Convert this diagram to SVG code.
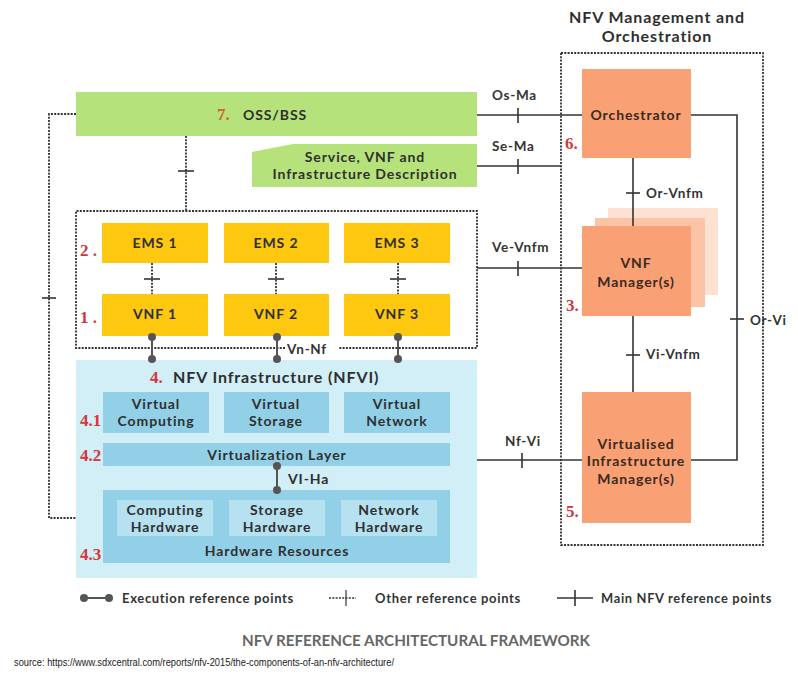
<svg xmlns="http://www.w3.org/2000/svg" width="798" height="679" viewBox="0 0 798 679">
<style>
.t{font-family:Lato,"Liberation Sans",sans-serif;font-weight:700;fill:#2f2f2f;font-size:14px;letter-spacing:0.9px}
.c{text-anchor:middle}
.lbl{font-family:Lato,"Liberation Sans",sans-serif;font-weight:700;fill:#333;font-size:13.5px;letter-spacing:0.7px}
.num{font-family:"Liberation Serif","Times New Roman",serif;font-weight:bold;fill:#d4363c;font-size:17px}
.org{fill:#f9a074}
.grn{fill:#b6e27c}
.yel{fill:#fdc80f}
.bl1{fill:#92d0e8}
.bl2{fill:#b6e1f1}
.dot{fill:none;stroke:#333;stroke-width:1.8;stroke-dasharray:2 1.3}
.sol{fill:none;stroke:#333;stroke-width:1.6}
.exe{fill:none;stroke:#555;stroke-width:2}
.ot{fill:#3a2a20}
</style>

<!-- MANO title -->
<g id="mano-title">
<text class="t c" x="657" y="23" style="font-size:16px">NFV Management and</text>
<text class="t c" x="657" y="42" style="font-size:16px">Orchestration</text>
</g>

<!-- OSS/BSS -->
<g id="oss-bss">
<rect class="grn" x="76" y="92" width="401" height="44"/>
<text class="num" x="217" y="120" style="fill:#d8602c">7.</text>
<text class="t" x="243" y="120">OSS/BSS</text>
</g>

<!-- Service description -->
<g id="service-desc">
<polygon class="grn" points="252,152 293,144 477,144 477,187 252,187"/>
<text class="t c" x="365" y="162">Service, VNF and</text>
<text class="t c" x="365" y="179">Infrastructure Description</text>
</g>

<!-- EMS -->
<g id="ems1"><rect class="yel" x="102" y="223" width="106" height="40"/><text class="t c" x="155" y="248">EMS 1</text></g>
<g id="ems2"><rect class="yel" x="224" y="223" width="105" height="40"/><text class="t c" x="276" y="248">EMS 2</text></g>
<g id="ems3"><rect class="yel" x="344" y="223" width="106" height="40"/><text class="t c" x="397" y="248">EMS 3</text></g>
<text class="num" x="80" y="256">2 .</text>

<!-- VNF -->
<g id="vnf1"><rect class="yel" x="102" y="294" width="106" height="42"/><text class="t c" x="155" y="319">VNF 1</text></g>
<g id="vnf2"><rect class="yel" x="224" y="294" width="105" height="42"/><text class="t c" x="276" y="319">VNF 2</text></g>
<g id="vnf3"><rect class="yel" x="344" y="294" width="106" height="42"/><text class="t c" x="397" y="319">VNF 3</text></g>
<text class="num" x="80" y="323">1 .</text>

<!-- NFVI -->
<g id="nfvi">
<rect x="76" y="360" width="401" height="218" fill="#d2eef6"/>
<text class="num" x="150" y="383">4.</text>
<text class="t" x="173" y="383" style="font-size:16px">NFV Infrastructure (NFVI)</text>
<g id="virtual-computing"><rect class="bl1" x="103" y="392" width="106" height="41"/><text class="t c" x="156" y="409">Virtual</text><text class="t c" x="156" y="426">Computing</text></g>
<g id="virtual-storage"><rect class="bl1" x="224" y="392" width="105" height="41"/><text class="t c" x="276" y="409">Virtual</text><text class="t c" x="276" y="426">Storage</text></g>
<g id="virtual-network"><rect class="bl1" x="344" y="392" width="106" height="41"/><text class="t c" x="397" y="409">Virtual</text><text class="t c" x="397" y="426">Network</text></g>
<text class="num" x="80" y="426">4.1</text>
<g id="virtualization-layer"><rect class="bl1" x="103" y="443" width="347" height="23"/><text class="t c" x="277" y="460">Virtualization Layer</text></g>
<text class="num" x="80" y="461">4.2</text>
<g id="hardware-resources">
<rect class="bl1" x="103" y="490" width="347" height="73"/>
<rect class="bl2" x="117" y="500" width="96" height="36"/>
<rect class="bl2" x="229" y="500" width="96" height="36"/>
<rect class="bl2" x="341" y="500" width="96" height="36"/>
<text class="t c" x="165" y="515">Computing</text><text class="t c" x="165" y="532">Hardware</text>
<text class="t c" x="277" y="515">Storage</text><text class="t c" x="277" y="532">Hardware</text>
<text class="t c" x="389" y="515">Network</text><text class="t c" x="389" y="532">Hardware</text>
<text class="t c" x="277" y="556">Hardware Resources</text>
</g>
<text class="num" x="80" y="560">4.3</text>
</g>

<!-- Orchestrator -->
<g id="orchestrator">
<rect class="org" x="582" y="69" width="109" height="89"/>
<text class="t c ot" x="636" y="120">Orchestrator</text>
<text class="num" x="565" y="149">6.</text>
</g>

<!-- VNF Manager -->
<g id="vnf-manager">
<rect x="608" y="208" width="110" height="87" fill="#fde2d4"/>
<rect x="595" y="218" width="110" height="89" fill="#fcc4a6"/>
<rect class="org" x="582" y="226" width="109" height="90"/>
<text class="t c ot" x="636" y="268">VNF</text>
<text class="t c ot" x="636" y="287">Manager(s)</text>
<text class="num" x="566" y="311">3.</text>
</g>

<!-- VIM -->
<g id="vim">
<rect class="org" x="582" y="392" width="109" height="131"/>
<text class="t c ot" x="636" y="449">Virtualised</text>
<text class="t c ot" x="636" y="466">Infrastructure</text>
<text class="t c ot" x="636" y="484">Manager(s)</text>
<text class="num" x="566" y="517">5.</text>
</g>

<!-- connectors -->
<g id="connectors">
<!-- dotted boxes -->
<rect class="dot" x="561" y="53" width="202" height="492"/>
<path class="dot" d="M285,348 H76 V211 H477 V348 H338"/>
<!-- OSS left loop -->
<path class="dot" d="M76,114 H49 V518 H76"/>
<line class="sol" x1="42" y1="298" x2="56" y2="298"/>
<!-- OSS to EMS box -->
<line class="dot" x1="186" y1="136" x2="186" y2="211"/>
<line class="sol" x1="178" y1="171" x2="194" y2="171"/>
<!-- EMS-VNF -->
<line class="dot" x1="152" y1="263" x2="152" y2="294"/>
<line class="sol" x1="144" y1="279" x2="160" y2="279"/>
<line class="dot" x1="276" y1="263" x2="276" y2="294"/>
<line class="sol" x1="268" y1="279" x2="284" y2="279"/>
<line class="dot" x1="398" y1="263" x2="398" y2="294"/>
<line class="sol" x1="390" y1="279" x2="406" y2="279"/>
<!-- execution Vn-Nf -->
<g fill="#555">
<line class="exe" x1="152" y1="337" x2="152" y2="359"/>
<circle cx="152" cy="337" r="4"/><circle cx="152" cy="359" r="4"/>
<line class="exe" x1="277" y1="337" x2="277" y2="359"/>
<circle cx="277" cy="337" r="4"/><circle cx="277" cy="359" r="4"/>
<line class="exe" x1="398" y1="337" x2="398" y2="359"/>
<circle cx="398" cy="337" r="4"/><circle cx="398" cy="359" r="4"/>
</g>
<!-- VI-Ha -->
<g fill="#555">
<line class="exe" x1="277" y1="466" x2="277" y2="490"/>
<circle cx="277" cy="466" r="4"/><circle cx="277" cy="490" r="4"/>
</g>
<!-- Os-Ma -->
<line class="sol" x1="477" y1="115" x2="582" y2="115"/>
<line class="sol" x1="518" y1="108" x2="518" y2="123"/>
<!-- Se-Ma -->
<line class="sol" x1="477" y1="166" x2="561" y2="166"/>
<line class="sol" x1="518" y1="159" x2="518" y2="174"/>
<!-- Ve-Vnfm -->
<line class="sol" x1="477" y1="268" x2="582" y2="268"/>
<line class="sol" x1="518" y1="261" x2="518" y2="276"/>
<!-- Nf-Vi -->
<line class="sol" x1="477" y1="460" x2="582" y2="460"/>
<line class="sol" x1="522" y1="453" x2="522" y2="468"/>
<!-- Or-Vnfm -->
<line class="sol" x1="633" y1="158" x2="633" y2="226"/>
<line class="sol" x1="626" y1="193" x2="640" y2="193"/>
<!-- Vi-Vnfm -->
<line class="sol" x1="633" y1="316" x2="633" y2="392"/>
<line class="sol" x1="626" y1="355" x2="640" y2="355"/>
<!-- Or-Vi -->
<path class="sol" d="M691,115 H737 V460 H691"/>
<line class="sol" x1="730" y1="319" x2="744" y2="319"/>
<!-- labels -->
<text class="lbl" x="492" y="100">Os-Ma</text>
<text class="lbl" x="492" y="151">Se-Ma</text>
<text class="lbl" x="492" y="252">Ve-Vnfm</text>
<text class="lbl" x="505" y="446">Nf-Vi</text>
<text class="lbl" x="646" y="198">Or-Vnfm</text>
<text class="lbl" x="646" y="359">Vi-Vnfm</text>
<text class="lbl" x="750" y="325">Or-Vi</text>
<text class="lbl" x="287" y="354">Vn-Nf</text>
<text class="t" x="288" y="484">VI-Ha</text>
</g>

<!-- Legend -->
<g id="legend">
<line class="exe" x1="84" y1="598" x2="109" y2="598"/>
<circle cx="84" cy="598" r="4" fill="#555"/><circle cx="109" cy="598" r="4" fill="#555"/>
<text class="lbl" x="122" y="603" textLength="172" lengthAdjust="spacingAndGlyphs">Execution reference points</text>
<line class="dot" x1="329" y1="598" x2="356" y2="598" style="stroke-width:1.4"/>
<line class="sol" x1="346" y1="590" x2="346" y2="606" style="stroke-width:1.2"/>
<text class="lbl" x="375" y="603" textLength="146" lengthAdjust="spacingAndGlyphs">Other reference points</text>
<line class="sol" x1="557" y1="598" x2="593" y2="598"/>
<line class="sol" x1="575" y1="590" x2="575" y2="606"/>
<text class="lbl" x="601" y="603" textLength="171" lengthAdjust="spacingAndGlyphs">Main NFV reference points</text>
</g>

<!-- Footer -->
<text x="416" y="646" text-anchor="middle" textLength="348" lengthAdjust="spacingAndGlyphs" style="font-family:Lato,'Liberation Sans',sans-serif;font-size:15px;font-weight:700;fill:#666">NFV REFERENCE ARCHITECTURAL FRAMEWORK</text>
<text x="14" y="666" textLength="380" lengthAdjust="spacingAndGlyphs" style="font-family:'Liberation Sans',sans-serif;font-size:10px;fill:#222">source: https://www.sdxcentral.com/reports/nfv-2015/the-components-of-an-nfv-architecture/</text>
</svg>
